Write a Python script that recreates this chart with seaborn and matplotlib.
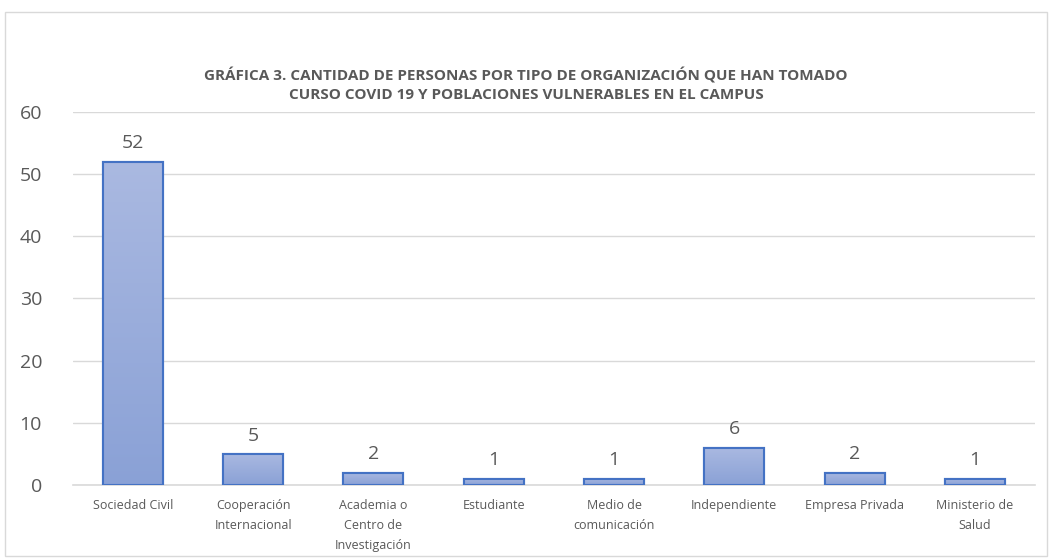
import numpy as np
import pandas as pd
import matplotlib
matplotlib.use('Agg')
import matplotlib.pyplot as plt
import seaborn as sns
from matplotlib.patches import Rectangle

categorias = ['Sociedad Civil', 'Cooperación\nInternacional', 'Academia o\nCentro de\nInvestigación',
              'Estudiante', 'Medio de\ncomunicación', 'Independiente', 'Empresa Privada',
              'Ministerio de\nSalud']
personas = [52, 5, 2, 1, 1, 6, 2, 1]

titulo = ('GRÁFICA 3. CANTIDAD DE PERSONAS POR TIPO DE ORGANIZACIÓN QUE HAN TOMADO\n'
          'CURSO COVID 19 Y POBLACIONES VULNERABLES EN EL CAMPUS')

sns.set_theme(style='white')
plt.rcParams['font.family'] = ['Open Sans', 'DejaVu Sans']
gris = '#595959'

df = pd.DataFrame({'categoria': categorias, 'personas': personas})

fig = plt.figure(figsize=(10.52, 5.6), dpi=100)
ax = fig.add_axes([0.069, 0.134, 0.915, 0.666])

sns.barplot(data=df, x='categoria', y='personas', ax=ax, width=0.5,
            color='#9aaedc', edgecolor='#4472c4', linewidth=1.5, zorder=3)

# degradado dentro de cada barra
grad = np.linspace(0, 1, 256).reshape(-1, 1)
cmap = matplotlib.colors.LinearSegmentedColormap.from_list('g', ['#aab9e1', '#8aa1d6'])
for p in ax.patches:
    x0, y0 = p.get_x(), p.get_y()
    w, h = p.get_width(), p.get_height()
    im = ax.imshow(grad, cmap=cmap, aspect='auto', extent=[x0, x0 + w, y0, y0 + h],
                   origin='upper', zorder=3.5)
    im.set_clip_path(p)
    ax.add_patch(Rectangle((x0, y0), w, h, fill=False, edgecolor='#4472c4',
                           linewidth=1.5, zorder=4))

for i, v in enumerate(personas):
    ax.text(i, v + 1.5, str(v), ha='center', va='bottom', fontsize=14, color=gris)

ax.set_xlim(-0.5, len(categorias) - 0.5)
ax.set_ylim(0, 60)
ax.set_yticks(range(0, 61, 10))
ax.yaxis.grid(True, color='#d9d9d9', linewidth=1, zorder=0)
ax.set_axisbelow(True)
for s in ['top', 'right', 'left']:
    ax.spines[s].set_visible(False)
ax.spines['bottom'].set_color('#d9d9d9')
ax.spines['bottom'].set_linewidth(1.2)
ax.set_xlabel('')
ax.set_ylabel('')
ax.tick_params(axis='y', labelsize=14, labelcolor=gris, length=0, pad=22)
ax.tick_params(axis='x', labelsize=9, labelcolor=gris, length=0, pad=10)
for lab in ax.get_xticklabels():
    lab.set_linespacing(1.7)

fig.text(0.5, 0.849, titulo, ha='center', va='center', fontsize=11, fontweight='bold',
         color=gris, linespacing=1.45)

fig.patches.append(Rectangle((0.005, 0.008), 0.99, 0.97, transform=fig.transFigure,
                             fill=False, edgecolor='#d9d9d9', linewidth=1))

fig.savefig('out.png', dpi=100, facecolor='white')
